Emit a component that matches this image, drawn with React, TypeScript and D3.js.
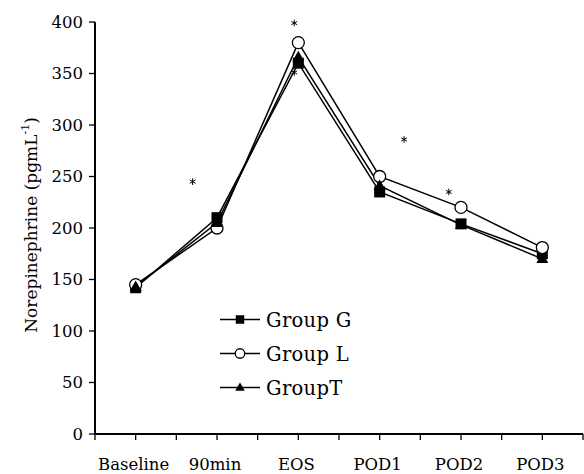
import React from "react";
import * as d3 from "d3";

const categories = ["Baseline", "90min", "EOS", "POD1", "POD2", "POD3"];
const groupG = [142, 210, 360, 235, 204, 175];
const groupL = [145, 200, 380, 250, 220, 181];
const groupT = [143, 205, 366, 241, 203, 170];
const yTicks = [0, 50, 100, 150, 200, 250, 300, 350, 400];
const asterisks = [
  { cat: "90min", value: 245, dx: -0.3 },
  { cat: "EOS", value: 399, dx: -0.05 },
  { cat: "EOS", value: 351, dx: -0.05 },
  { cat: "POD1", value: 286, dx: 0.3 },
  { cat: "POD2", value: 235, dx: -0.15 },
];
const legendItems = [
  { name: "Group G", shape: "square" },
  { name: "Group L", shape: "circle" },
  { name: "GroupT", shape: "triangle" },
];

const W = 584;
const H = 474;
const left = 95;
const right = 583;
const top = 22;
const bottom = 434;
const FONT = "'DejaVu Serif', serif";
const FS = 16.5;

function Marker({ shape, x, y, s = 11 }: { shape: string; x: number; y: number; s?: number }) {
  if (shape === "square") {
    return <rect x={x - s / 2} y={y - s / 2} width={s} height={s} fill="#000" />;
  }
  if (shape === "circle") {
    return <circle cx={x} cy={y} r={s / 2 + 0.5} fill="#fff" stroke="#000" strokeWidth={1.3} />;
  }
  const w = s + 1;
  const h = w * 0.87;
  return (
    <path
      d={`M${x},${y - h * 0.6} L${x + w / 2},${y + h * 0.4} L${x - w / 2},${y + h * 0.4} Z`}
      fill="#000"
    />
  );
}

export default function App() {
  const x = d3.scaleBand<string>().domain(categories).range([left, right]);
  const y = d3.scaleLinear().domain([0, 400]).range([bottom, top]);
  const cx = (c: string) => (x(c) as number) + x.bandwidth() / 2;

  const series = [
    { name: "Group G", values: groupG, shape: "square" },
    { name: "Group L", values: groupL, shape: "circle" },
    { name: "GroupT", values: groupT, shape: "triangle" },
  ];

  const line = d3
    .line<number>()
    .x((_, i) => cx(categories[i]))
    .y((d) => y(d));

  const star = d3.symbol().type(d3.symbolAsterisk).size(30)();

  const xTickPositions: number[] = [];
  categories.forEach((c) => {
    xTickPositions.push(x(c) as number);
    xTickPositions.push(cx(c));
  });
  xTickPositions.push(right);

  const textStyle = { fontFamily: FONT };

  return (
    <svg
      width={W}
      height={H}
      style={{ position: "absolute", left: 0, top: 0, display: "block", background: "#fff", fontFamily: FONT }}
    >
      {/* axes */}
      <line x1={left} y1={top} x2={left} y2={bottom} stroke="#000" strokeWidth={2} />
      <line x1={left - 1} y1={bottom} x2={right} y2={bottom} stroke="#000" strokeWidth={2} />
      {yTicks.map((t) => (
        <g key={t}>
          <line x1={left - 6} x2={left} y1={y(t)} y2={y(t)} stroke="#000" strokeWidth={1.3} />
          <text x={left - 12} y={y(t)} dy="0.36em" textAnchor="end" fontSize={FS} style={textStyle}>
            {t}
          </text>
        </g>
      ))}
      {xTickPositions.map((p, i) => (
        <line key={i} x1={p} x2={p} y1={bottom} y2={bottom + 6} stroke="#000" strokeWidth={1.3} />
      ))}
      {categories.map((c) => (
        <text key={c} x={cx(c) - 2} y={470} textAnchor="middle" fontSize={FS} style={textStyle}>
          {c}
        </text>
      ))}
      <text
        transform={`translate(37,225) rotate(-90)`}
        textAnchor="middle"
        fontSize={17}
        style={textStyle}
      >
        Norepinephrine (pgmL
        <tspan dy={-8} fontSize={11}>-1</tspan>
        <tspan dy={8}>)</tspan>
      </text>

      {/* series */}
      {series.map((s) => (
        <path key={s.name} d={line(s.values) || ""} fill="none" stroke="#000" strokeWidth={1.5} />
      ))}
      {series.map((s) =>
        s.values.map((v, i) => (
          <Marker key={s.name + i} shape={s.shape} x={cx(categories[i])} y={y(v)} />
        ))
      )}

      {/* asterisks */}
      {asterisks.map((a, i) => (
        <path
          key={i}
          d={star || ""}
          transform={`translate(${cx(a.cat) + a.dx * x.bandwidth()},${y(a.value)})`}
          fill="none"
          stroke="#000"
          strokeWidth={1}
        />
      ))}

      {/* legend */}
      {legendItems.map((l, i) => {
        const ly = 319.5 + i * 34;
        return (
          <g key={l.name}>
            <line x1={220} x2={260} y1={ly} y2={ly} stroke="#000" strokeWidth={1.5} />
            <Marker shape={l.shape} x={240} y={ly} s={8.5} />
            <text x={266} y={ly} dy="0.36em" fontSize={19.5} letterSpacing={0.3} style={textStyle}>
              {l.name}
            </text>
          </g>
        );
      })}
    </svg>
  );
}
